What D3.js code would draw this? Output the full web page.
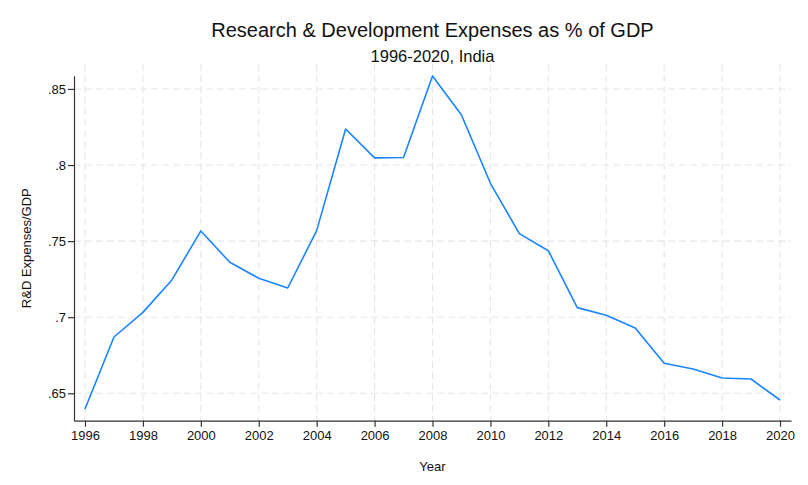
<!DOCTYPE html>
<html>
<head>
<meta charset="utf-8">
<script src="https://cdn.jsdelivr.net/npm/d3@7"></script>
<style>
  html, body { margin: 0; padding: 0; background: #fff; }
  svg { display: block; font-family: "Liberation Sans", Arial, sans-serif; }
</style>
</head>
<body>
<svg id="chart" width="808" height="485"></svg>
<script>
const years = [1996,1997,1998,1999,2000,2001,2002,2003,2004,2005,2006,2007,2008,2009,2010,2011,2012,2013,2014,2015,2016,2017,2018,2019,2020];
const rdShare = [0.6397,0.6870,0.7032,0.7245,0.7567,0.7361,0.7256,0.7192,0.7569,0.8237,0.8047,0.8049,0.8585,0.8329,0.7880,0.7549,0.7437,0.7063,0.7013,0.6929,0.6697,0.6660,0.6601,0.6594,0.6456];
const xTicks = [1996,1998,2000,2002,2004,2006,2008,2010,2012,2014,2016,2018,2020];
const yTicks = [0.65,0.70,0.75,0.80,0.85];
const yTickLabels = [".65",".7",".75",".8",".85"];
const titleText = "Research & Development Expenses as % of GDP";
const subtitleText = "1996-2020, India";
const xTitle = "Year";
const yTitle = "R&D Expenses/GDP";

const svg = d3.select("#chart");
const pL = 74, pR = 791, pT = 75.7, pB = 420.7, gridTop = 64;

const x = d3.scaleLinear().domain([1995.62, 2020.38]).range([pL, pR]);
const y = d3.scaleLinear().domain([0.6320, 0.8587]).range([pB, pT]);

// grid
const grid = svg.append("g").attr("stroke", "#e6e6e6").attr("stroke-width", 1.1).attr("stroke-dasharray", "7,4");
grid.selectAll("line.v").data(xTicks).join("line").attr("class","v")
  .attr("x1", d => x(d)).attr("x2", d => x(d)).attr("y1", gridTop).attr("y2", pB);
grid.selectAll("line.h").data(yTicks).join("line").attr("class","h")
  .attr("x1", pL).attr("x2", pR).attr("y1", d => y(d)).attr("y2", d => y(d));

// axes
const xAxis = d3.axisBottom(x).tickValues(xTicks).tickFormat(d3.format("d")).tickSize(6).tickPadding(4).tickSizeOuter(0);
const gx = svg.append("g").attr("transform", `translate(0,${pB})`).call(xAxis);
const yAxis = d3.axisLeft(y).tickValues(yTicks).tickFormat((d,i) => yTickLabels[i]).tickSize(6).tickPadding(2).tickSizeOuter(0);
const gy = svg.append("g").attr("transform", `translate(${pL},0)`).call(yAxis);
[gx, gy].forEach(g => {
  g.selectAll("path.domain").attr("stroke", "#333").attr("stroke-width", 1.2);
  g.selectAll(".tick line").attr("stroke", "#333").attr("stroke-width", 1.2);
  g.selectAll(".tick text").attr("fill", "#111").style("font-size", "13px").style("font-family", "'Liberation Sans', Arial, sans-serif");
});

// line
const line = d3.line().x((d,i) => x(years[i])).y(d => y(d));
svg.append("path").datum(rdShare).attr("d", line)
  .attr("fill", "none").attr("stroke", "#1a85ff").attr("stroke-width", 1.6).attr("stroke-linejoin", "round");

// titles
const cx = (pL + pR) / 2;
svg.append("text").attr("x", cx).attr("y", 37).attr("text-anchor", "middle")
  .style("font-size", "20px").attr("fill", "#111").text(titleText);
svg.append("text").attr("x", cx).attr("y", 62).attr("text-anchor", "middle")
  .style("font-size", "16.5px").attr("fill", "#111").text(subtitleText);
svg.append("text").attr("x", cx).attr("y", 471).attr("text-anchor", "middle")
  .style("font-size", "13px").attr("fill", "#111").text(xTitle);
svg.append("text").attr("transform", `translate(31,${(pT+pB)/2}) rotate(-90)`).attr("text-anchor", "middle")
  .style("font-size", "13px").attr("fill", "#111").text(yTitle);
</script>
</body>
</html>
